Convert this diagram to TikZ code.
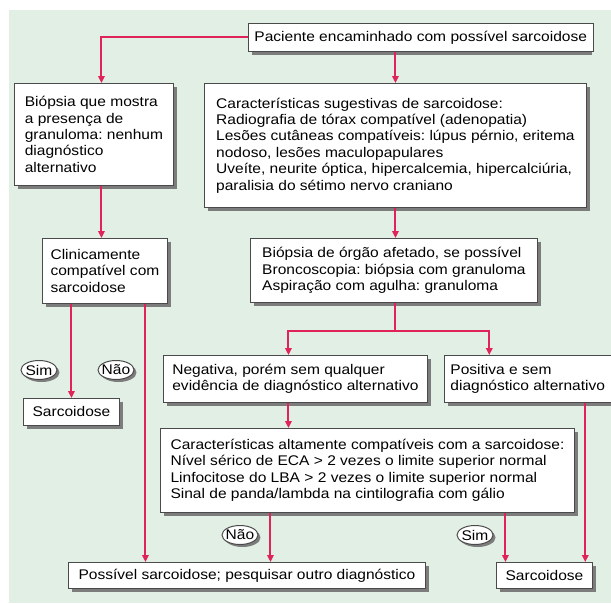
\documentclass[tikz,border=0pt]{standalone}
\usepackage{fontspec}
\setmainfont{Liberation Sans}[FakeStretch=1.11]
\usetikzlibrary{arrows.meta,shapes.geometric}
\definecolor{panelgreen}{HTML}{E2EFE5}
\definecolor{flowred}{HTML}{E0245A}
\definecolor{boxgray}{HTML}{4A4A4A}
\definecolor{shadowgray}{HTML}{7C7C7C}
\begin{document}
\frenchspacing
\begin{tikzpicture}[x=1pt,y=-1pt,
   box/.style={draw=boxgray,fill=white,line width=0.9pt,anchor=north west,align=left,
     inner xsep=6pt,inner ysep=2pt,font=\fontsize{14}{16.4}\selectfont},
   tag/.style={ellipse,draw=boxgray,fill=white,line width=1pt,inner xsep=-4pt,inner ysep=-3pt,
     minimum width=36pt,minimum height=19pt,font=\fontsize{14}{15}\selectfont},
   flow/.style={draw=flowred,line width=2pt,-{Triangle[length=7pt,width=6.5pt]}},
   link/.style={draw=flowred,line width=2pt}]
   \useasboundingbox (0,0) rectangle (611,603);
   \fill[panelgreen] (9,10) rectangle (611,603);
   \foreach \x/\y/\w/\h in {248/23/340/28,14/83/159/102,204/83/382/124,42/238/125/65,250/238/287/64,163/355/264/47,444/355/165/47,23/398/96/27,160/428/414/84,68/562/357/26,496/562/96/26}
     \fill[shadowgray] (\x+3.5,\y+3.5) rectangle (\x+\w+3.5,\y+\h+3.5);
   \foreach \x/\y in {39/370,116/370,240/535,475/535}
     \fill[shadowgray] (\x+2.5,\y+2.5) ellipse [x radius=18pt,y radius=9.5pt];
   \node[box,minimum width=340pt,minimum height=28pt] (top) at (248,23) {Paciente encaminhado com possível sarcoidose};
   \node[box,minimum width=159pt,minimum height=102pt] (biop) at (14,83) {Biópsia que mostra\\a presença de\\granuloma: nenhum\\diagnóstico\\alternativo};
   \node[box,minimum width=382pt,minimum height=124pt] (char) at (204,83) {Características sugestivas de sarcoidose:\\Radiografia de tórax compatível (adenopatia)\\Lesões cutâneas compatíveis: lúpus pérnio, eritema\\nodoso, lesões maculopapulares\\Uveíte, neurite óptica, hipercalcemia, hipercalciúria,\\paralisia do sétimo nervo craniano};
   \node[box,minimum width=125pt,minimum height=65pt] (clin) at (42,238) {Clinicamente\\compatível com\\sarcoidose};
   \node[box,minimum width=287pt,minimum height=64pt] (bio2) at (250,238) {Biópsia de órgão afetado, se possível\\Broncoscopia: biópsia com granuloma\\Aspiração com agulha: granuloma};
   \node[box,minimum width=264pt,minimum height=47pt] (neg) at (163,355) {Negativa, porém sem qualquer\\evidência de diagnóstico alternativo};
   \node[box,minimum width=165pt,minimum height=47pt] (pos) at (444,355) {Positiva e sem\\diagnóstico alternativo};
   \node[box,minimum width=96pt,minimum height=27pt] (sarc1) at (23,398) {Sarcoidose};
   \node[box,minimum width=414pt,minimum height=84pt] (char2) at (160,428) {Características altamente compatíveis com a sarcoidose:\\Nível sérico de ECA > 2 vezes o limite superior normal\\Linfocitose do LBA > 2 vezes o limite superior normal\\Sinal de panda/lambda na cintilografia com gálio};
   \node[box,minimum width=357pt,minimum height=26pt] (poss) at (68,562) {Possível sarcoidose; pesquisar outro diagnóstico};
   \node[box,minimum width=96pt,minimum height=26pt] (sarc2) at (496,562) {Sarcoidose};
   \node[tag] (sim1) at (39,370) {Sim};
   \node[tag] (nao1) at (116,370) {Não};
   \node[tag] (nao2) at (240,535) {Não};
   \node[tag] (sim2) at (475,535) {Sim};
   \coordinate (split) at ([yshift=-28pt]bio2.south);
   \draw[flow] (top.west) -| ([xshift=7.5pt]biop.north);
   \draw[flow] (top.south -| char.north) -- (char.north);
   \draw[flow] ([xshift=7.5pt]biop.south) -- ([xshift=7.5pt]biop.south |- clin.north);
   \draw[flow] (char.south) -- (char.south |- bio2.north);
   \draw[link] (char.south |- bio2.south) -- (char.south |- split);
   \draw[flow] (char.south |- split) -| ([xshift=-7pt]neg.north);
   \draw[flow] (char.south |- split) -| ([xshift=-38.5pt]pos.north);
   \draw[flow] (clin.south -| sarc1.north) -- (sarc1.north);
   \draw[flow] ([xshift=40.5pt]clin.south) -- ([xshift=40.5pt]clin.south |- poss.north);
   \draw[flow] ([xshift=-7pt]neg.south) -- ([xshift=-7pt]neg.south |- char2.north);
   \draw[flow] ([xshift=-97pt]char2.south) -- ([xshift=-97pt]char2.south |- poss.north);
   \draw[flow] ([xshift=138pt]char2.south) -- ([xshift=138pt]char2.south |- sarc2.north);
   \draw[flow] ([xshift=57.5pt]pos.south) -- ([xshift=57.5pt]pos.south |- sarc2.north);
 \end{tikzpicture}
\end{document}
